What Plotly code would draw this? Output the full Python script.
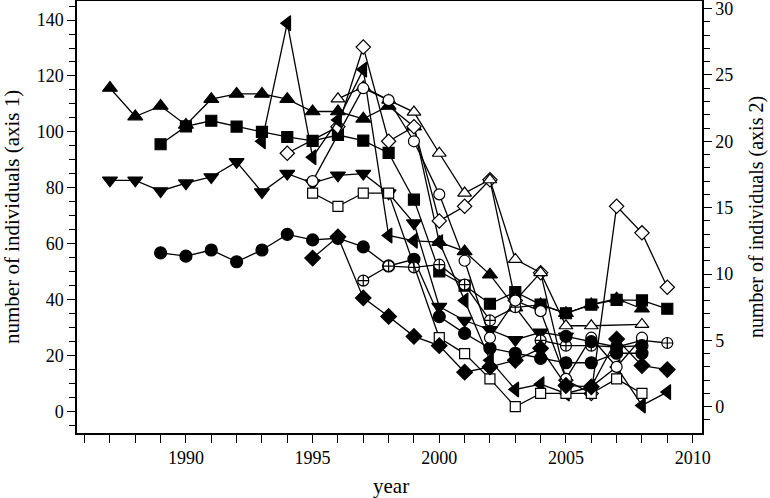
import plotly.graph_objects as go

# ---------------- data ----------------
# axis 1 (left) series
yrs_tri_up = list(range(1987, 2009))
tri_up = [115.7, 105.5, 109.3, 102.5, 111.7, 113.6, 113.6, 111.7, 107.3, 107.3, 104.7,
          109.3, 101.9, 60.6, 57.3, 49.0, 37.2, 38.3, 35.2, 38.3, 40.4, 36.8]

yrs_square = list(range(1989, 2010))
square = [95.6, 102.0, 104.0, 101.9, 100.0, 98.2, 96.8, 98.9, 96.9, 92.5, 75.8,
          50.2, 45.1, 38.6, 42.8, 38.3, 35.2, 38.3, 40.0, 39.8, 36.8]

yrs_tri_down = list(range(1987, 2006))
tri_down = [82.7, 82.7, 78.9, 81.7, 83.9, 89.3, 78.5, 85.1, 81.7, 84.5, 85.1,
            78.1, 67.4, 37.6, 32.6, 29.3, 25.7, 28.4, 26.9]

yrs_circle = list(range(1989, 2009))
circle = [56.8, 55.6, 57.8, 53.6, 57.8, 63.4, 61.4, 62.0, 58.9, 52.1, 54.5,
          34.0, 28.0, 22.7, 20.9, 19.1, 17.5, 17.5, 20.9, 20.9]

# axis 2 (right) series
yrs_tri_left = list(range(1993, 2010))
tri_left = [20.0, 28.9, 18.8, 21.6, 25.4, 12.9, 12.5, 12.4, 8.0, 3.5, 1.3, 1.7, 1.0, 1.5, 3.0, 0.1, 1.1]

yrs_diamond_open = list(range(1994, 2010))
diamond_open = [19.1, None, 21.1, 27.1, 20.0, 21.1, 14.0, 15.1, 17.1, 8.0, 10.1, 2.0, 1.0, 15.1, 13.1, 9.0]

yrs_tri_up_open = list(range(1996, 2009))
tri_up_open = [23.2, 24.1, 23.1, 22.2, 19.1, 16.1, 17.1, 11.1, 10.1, 6.1, 6.1, None, 6.2]

yrs_circle_open = list(range(1995, 2009))
circle_open = [17.0, None, 24.0, 23.1, 20.0, 16.0, 11.0, 5.2, 8.0, 7.2, 2.1, 5.2, 3.0, 5.2]

yrs_square_open = list(range(1995, 2009))
square_open = [16.1, 15.1, 16.1, 16.1, None, 5.2, 4.0, 2.1, 0.0, 1.0, 1.0, 1.0, 2.1, 1.0]

yrs_diamond = list(range(1995, 2010))
diamond = [11.2, 12.8, 8.2, 6.8, 5.3, 4.6, 2.6, 3.0, 3.5, 4.4, 1.6, 1.5, 5.1, 3.1, 2.8]

yrs_circle_cross = list(range(1997, 2010))
circle_cross = [9.5, 10.6, 10.5, 10.7, 9.2, 6.5, 7.5, 5.0, 4.6, 4.6, 4.5, 5.0, 4.8]

yrs_circle2 = list(range(2005, 2009))
circle2 = [5.3, 4.9, 4.5, 4.6]

# ---------------- figure ----------------
FONT = "Liberation Serif, Times New Roman, DejaVu Serif, serif"
fig = go.Figure()

def add(x, y, symbol, filled=True, axis="y", size=11):
    fig.add_trace(go.Scatter(
        x=x, y=y, yaxis=axis, mode="lines+markers", connectgaps=True,
        line=dict(color="black", width=1.3),
        marker=dict(symbol=symbol, size=size,
                    color="black" if filled else "white",
                    line=dict(color="black", width=1.2)),
        showlegend=False, hoverinfo="skip"))

add(yrs_tri_up, tri_up, "triangle-up", size=13)
add(yrs_square, square, "square", size=11)
add(yrs_tri_down, tri_down, "triangle-down", size=13)
add(yrs_circle, circle, "circle", size=12)
add(yrs_diamond_open, diamond_open, "diamond", filled=False, axis="y2", size=11)
add(yrs_tri_left, tri_left, "triangle-left", axis="y2", size=13)
add(yrs_tri_up_open, tri_up_open, "triangle-up", filled=False, axis="y2", size=12)
add(yrs_circle_cross, circle_cross, "circle-cross", filled=False, axis="y2", size=11)
add(yrs_circle_open, circle_open, "circle", filled=False, axis="y2", size=11)
add(yrs_square_open, square_open, "square", filled=False, axis="y2", size=10)
add(yrs_diamond, diamond, "diamond", axis="y2", size=12)
add(yrs_circle2, circle2, "circle", axis="y2", size=12)

tickfont = dict(family=FONT, size=18, color="black")
titlefont = dict(family=FONT, size=21, color="black")

common = dict(ticks="outside", ticklen=8, tickwidth=1.2, tickcolor="black",
              showline=True, linecolor="black", linewidth=1.5,
              showgrid=False, zeroline=False, tickfont=tickfont,
              automargin=False, ticklabeloverflow="allow")

fig.update_layout(
    width=770, height=498,
    margin=dict(l=77, r=68, t=1, b=65),
    paper_bgcolor="white", plot_bgcolor="white",
    xaxis=dict(range=[1985.7, 2010.37], tickmode="linear", tick0=1990, dtick=5,
               minor=dict(dtick=1, ticks="outside", ticklen=8, tickwidth=1.2, tickcolor="black"),
               mirror=True, **common),
    yaxis=dict(range=[-7.6, 146.8], tickmode="linear", tick0=0, dtick=20,
               minor=dict(dtick=5, ticks="outside", ticklen=6, tickwidth=1.2, tickcolor="black"),
               **common),
    yaxis2=dict(range=[-1.98, 30.57], overlaying="y", side="right",
                tickmode="linear", tick0=0, dtick=5,
                minor=dict(dtick=1, ticks="outside", ticklen=6, tickwidth=1.2, tickcolor="black"),
                **common),
    annotations=[
        dict(text="year", xref="paper", yref="paper", x=0.5024, y=-0.122,
             showarrow=False, font=titlefont, xanchor="center", yanchor="middle"),
        dict(text="number of individuals (axis 1)", xref="paper", yref="paper",
             x=-0.104, y=0.5, textangle=-90, showarrow=False, font=titlefont,
             xanchor="center", yanchor="middle"),
        dict(text="number of individuals (axis 2)", xref="paper", yref="paper",
             x=1.0865, y=0.5, textangle=-90, showarrow=False,
             font=dict(family=FONT, size=20, color="black"),
             xanchor="center", yanchor="middle"),
    ],
)

fig.write_html("out.html", config={"displayModeBar": False},
               post_script="document.body.style.margin='0';document.body.style.overflow='hidden';")
